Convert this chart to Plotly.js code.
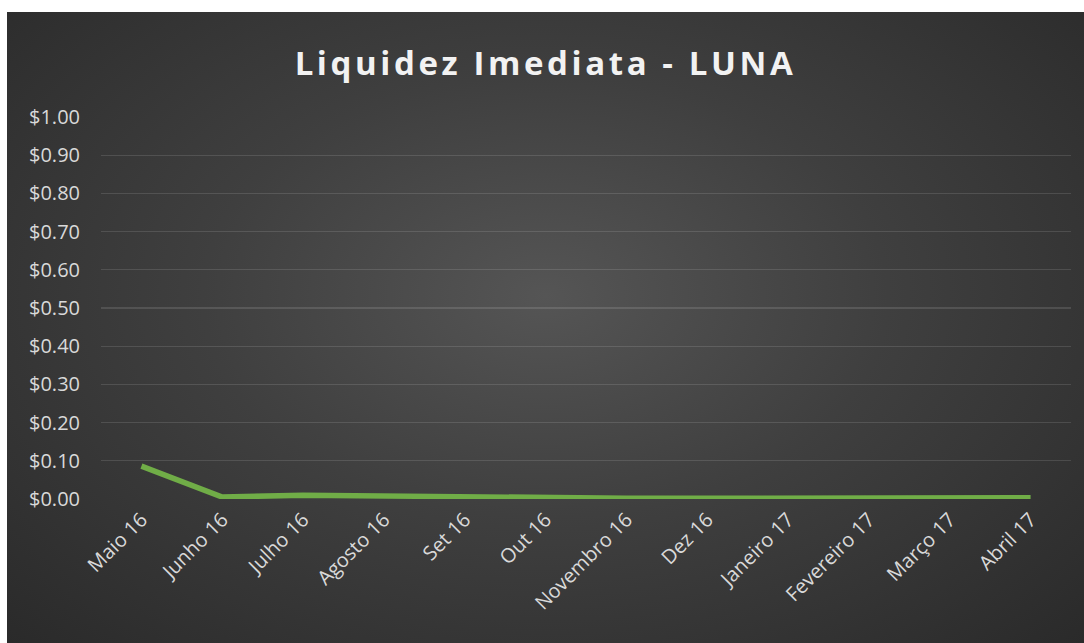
<!DOCTYPE html>
<html>
<head>
<meta charset="utf-8">
<script src="https://cdn.plot.ly/plotly-3.0.1.min.js"></script>
<style>
  html, body { margin: 0; padding: 0; background: #ffffff; }
  #chart {
    position: absolute; left: 7px; top: 12px; width: 1077px; height: 631px;
    background: radial-gradient(ellipse at 50% 45%, #555555 0%, #3f3f3f 45%, #2a2a2a 100%);
  }
  #chart .gtitle { letter-spacing: 3.6px; }
</style>
</head>
<body>
<div id="chart"></div>
<script>
const categories = ["Maio 16", "Junho 16", "Julho 16", "Agosto 16", "Set 16", "Out 16",
  "Novembro 16", "Dez 16", "Janeiro 17", "Fevereiro 17", "Março 17", "Abril 17"];
const liquidez = [0.086, 0.005, 0.010, 0.008, 0.003, 0.002, 0.002, 0.002, 0.002, 0.002, 0.001, 0.003];
const yTickVals = [0, 0.1, 0.2, 0.3, 0.4, 0.5, 0.6, 0.7, 0.8, 0.9, 1.0];

const trace = {
  x: categories,
  y: liquidez,
  type: 'scatter',
  mode: 'lines',
  line: { color: '#70AD47', width: 5.5, shape: 'linear' },
  hoverinfo: 'x+y'
};

const layout = {
  width: 1077, height: 631,
  paper_bgcolor: 'rgba(0,0,0,0)',
  plot_bgcolor: 'rgba(0,0,0,0)',
  margin: { l: 94, r: 13, t: 105, b: 144 },
  title: {
    text: '<b>Liquidez Imediata - LUNA</b>',
    font: { family: 'Open Sans, Lato, sans-serif', size: 33, color: '#f2f2f2' },
    x: 0.5, xanchor: 'center', y: 0.918, yanchor: 'middle'
  },
  xaxis: {
    type: 'category',
    range: [-0.5, categories.length - 0.5],
    tickangle: -45,
    tickfont: { family: 'Open Sans, Lato, sans-serif', size: 20, color: '#d9d9d9' },
    showgrid: false, showline: false, zeroline: false,
    ticks: '', ticklabelstandoff: 4
  },
  yaxis: {
    range: [0, 1.0],
    tickvals: yTickVals,
    tickformat: '$.2f',
    tickfont: { family: 'Open Sans, Lato, sans-serif', size: 20, color: '#d9d9d9' },
    gridcolor: 'rgba(255,255,255,0.12)', gridwidth: 1.3,
    zeroline: false, showline: false,
    ticks: '', ticklabelstandoff: 20
  },
  showlegend: false
};

Plotly.newPlot('chart', [trace], layout, { displayModeBar: false, staticPlot: true });
</script>
</body>
</html>
